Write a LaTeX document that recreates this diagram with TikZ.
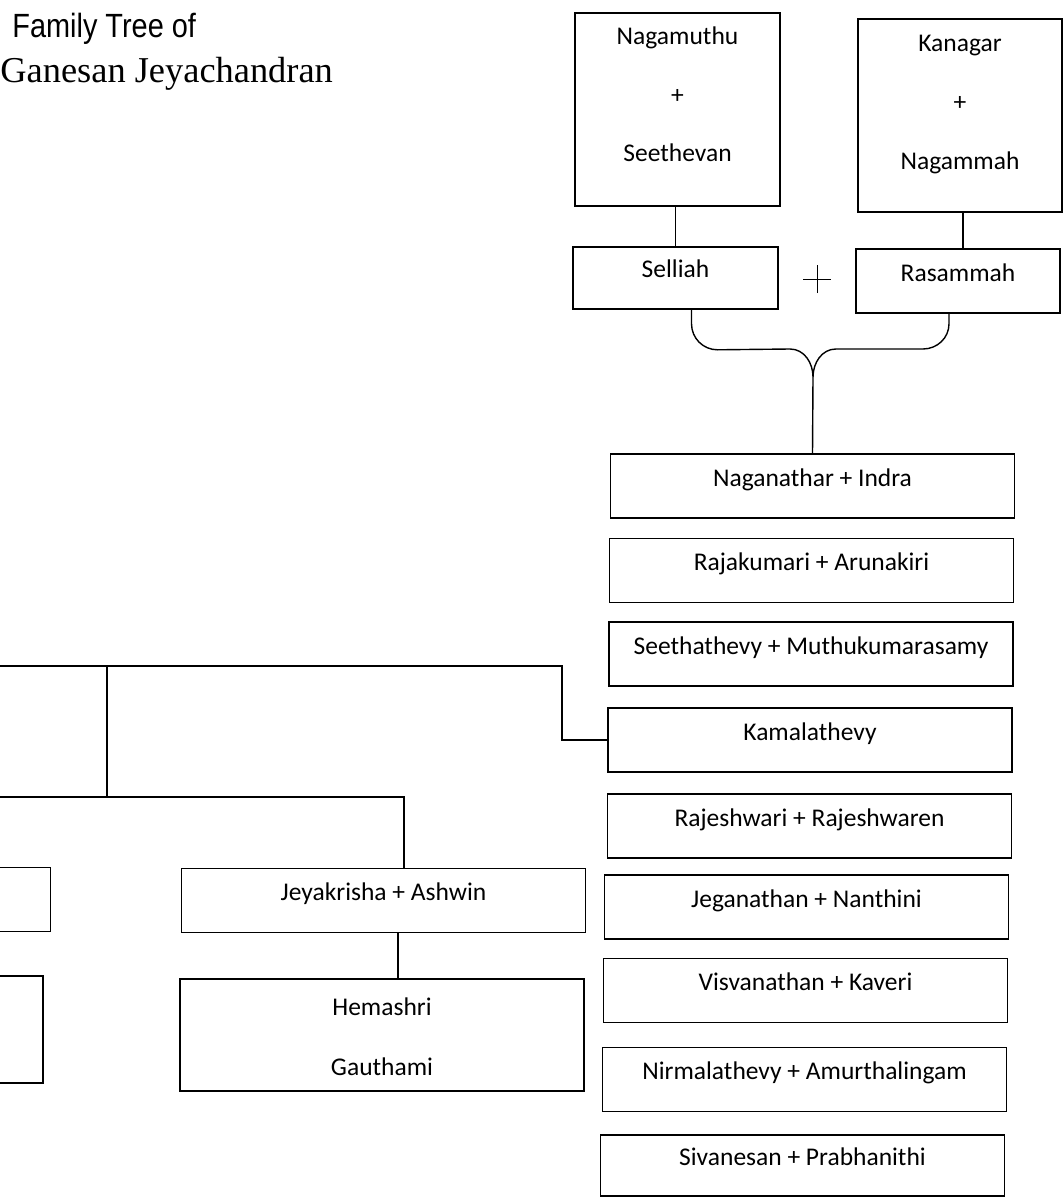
\documentclass[tikz,border=0pt]{standalone}
\usepackage{fontspec}
\setmainfont{Carlito}
\newfontfamily\headsans[FakeStretch=0.86]{Liberation Sans}
\newfontfamily\headserif{Liberation Serif}

\begin{document}
\begin{tikzpicture}[x=0.5pt,y=-0.5pt,
		person/.style={draw,line width=0.8pt,minimum width=202pt,minimum height=32pt,
			text height=8pt,text depth=8pt,inner sep=0pt,font=\fontsize{12.75}{15}\selectfont},
		parents/.style={draw,line width=0.8pt,minimum width=102pt,minimum height=96.5pt,inner sep=0pt},
		nametext/.style={anchor=base,inner sep=0pt,font=\fontsize{12.75}{15}\selectfont},
		link/.style={line width=0.7pt}]
	\useasboundingbox (0,0) rectangle (1063,1198);
	\clip (0,0) rectangle (1063,1198);

	% Title
	\node[anchor=base west,inner sep=0pt,font=\headsans\fontsize{16.8}{19}\selectfont] (titletop) at (12,38) {Family Tree of};
	\node[anchor=base west,inner sep=0pt,font=\headserif\fontsize{18.2}{21}\selectfont] (titlename) at (0,83) {Ganesan Jeyachandran};

	% Grandparents
	\node[parents,minimum width=102.5pt] (nagamuthu) at (677.5,109.5) {};
	\node[nametext] (nagamuthuname) at (677.5,45) {Nagamuthu};
	\node[nametext] (nagamuthuplus) at (677.5,104) {+};
	\node[nametext] (seethevanname) at (677.5,162) {Seethevan};
	\node[parents] (kanagar) at (960,115.5) {};
	\node[nametext] (kanagarname) at (960,52) {Kanagar};
	\node[nametext] (kanagarplus) at (960,111) {+};
	\node[nametext] (nagammahname) at (960,170) {Nagammah};

	% Parents
	\node[person,minimum width=102.5pt,minimum height=31pt] (selliah) at (675.5,278) {Selliah};
	\node[person,minimum width=102pt] (rasammah) at (958,281) {Rasammah};
	\draw[link] (selliah.north) -- (selliah.north |- nagamuthu.south);
	\draw[link] ([xshift=1.5pt]kanagar.south) -- ([xshift=1.5pt]kanagar.south |- rasammah.north);

	% Marriage sign
	\coordinate (wed) at (817,279);
	\draw[line width=0.5pt] ([xshift=-7pt]wed) -- ([xshift=7pt]wed) ([yshift=-7pt]wed) -- ([yshift=7pt]wed);

	% Children
	\node[person] (naganathar) at (812.5,486) {Naganathar + Indra};
	\node[person] (rajakumari) at (811.5,570.5) {Rajakumari + Arunakiri};
	\node[person] (seethathevy) at (811,654) {Seethathevy + Muthukumarasamy};
	\node[person] (kamalathevy) at (810,740) {Kamalathevy};
	\node[person] (rajeshwari) at (809.5,826) {Rajeshwari + Rajeshwaren};
	\node[person] (jeganathan) at (806.5,907) {Jeganathan + Nanthini};
	\node[person] (visvanathan) at (805.5,990.5) {Visvanathan + Kaveri};
	\node[person] (nirmalathevy) at (804.5,1079.5) {Nirmalathevy + Amurthalingam};
	\node[person,minimum height=30.5pt] (sivanesan) at (802.5,1165.5) {Sivanesan + Prabhanithi};

	% Brace down to the children
	\coordinate (tip) at (813,377);
	\draw[link] ([xshift=8pt]selliah.south) -- ++(0,14) to[out=-90,in=180] ++(26,26) -- (790,349)
		to[out=0,in=90] (tip) to[out=90,in=180] (836,349) -- (923,349)
		to[out=0,in=-90] ([xshift=-4.5pt,yshift=-5pt]rasammah.south) -- ([xshift=-4.5pt]rasammah.south);
	\draw[link] (tip) -- (naganathar.north);

	% Kamalathevy's branch
	\node[person] (cutupper) at (-151.5,899.5) {};
	\node[person,minimum height=53.5pt] (cutlower) at (-159,1029.5) {};
	\node[person] (jeyakrisha) at (383.5,900.5) {Jeyakrisha + Ashwin};
	\node[person,minimum height=56pt] (hemgau) at (382,1035) {};
	\node[nametext] (hemashri) at (382,1015) {Hemashri};
	\node[nametext] (gauthami) at (382,1075) {Gauthami};

	\coordinate (kamaljoin) at (562,666);
	\coordinate (leftupper) at (-20,666);
	\coordinate (fork) at (107,666);
	\coordinate (leftlower) at (-20,797);
	\draw[link] (kamalathevy.west) -| (kamaljoin) -- (leftupper);
	\draw[link] (fork) -- (fork |- leftlower);
	\draw[link] (leftlower) -| ([xshift=10.25pt]jeyakrisha.north);
	\draw[link] ([xshift=7.25pt]jeyakrisha.south) -- ([xshift=7.25pt]jeyakrisha.south |- hemgau.north);
\end{tikzpicture}
\end{document}
